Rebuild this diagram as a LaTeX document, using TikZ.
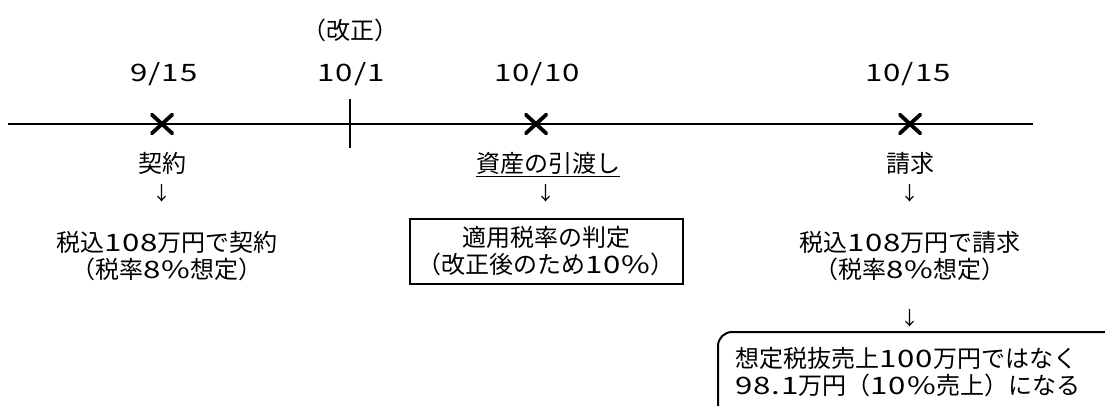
\documentclass[tikz,border=0pt]{standalone}
\usepackage{fontspec}
\setmainfont{Noto Sans CJK JP}
\newfontfamily\latn{Noto Sans CJK JP}[FakeStretch=1.3,LetterSpace=4]
\newcommand{\dg}[1]{{\latn #1}}
\begin{document}
\begin{tikzpicture}[x=1pt,y=-1pt,
  txt/.style={inner sep=0pt, font=\fontsize{24}{27.5}\selectfont, align=center},
  arr/.style={inner sep=0pt, font=\fontsize{19}{20}\selectfont},
  xmark/.style={minimum width=23pt, minimum height=21pt, inner sep=0pt,
    path picture={\draw[line width=3.8pt]
      (path picture bounding box.north west) -- (path picture bounding box.south east)
      (path picture bounding box.south west) -- (path picture bounding box.north east);}},
  frame/.style={draw, line width=2pt, inner sep=0pt},
  axis/.style={line width=2.2pt}
]
\clip (0,0) rectangle (1105,405);
\fill[white] (0,0) rectangle (1105,405);

% header labels
\node[txt] (kaisei) at (350,30) {（改正）};
\node[txt] (d1) at (164,74) {\dg{9/15}};
\node[txt] (d2) at (351,74) {\dg{10/1}};
\node[txt] (d3) at (537,74) {\dg{10/10}};
\node[txt] (d4) at (908,74) {\dg{10/15}};

% timeline
\coordinate (ts) at (8,124);
\coordinate (te) at (1033,124);
\draw[axis] (ts) -- (te);
\coordinate (tk1) at (350,99);
\coordinate (tk2) at (350,148);
\draw[axis] (tk1) -- (tk2);

\node[xmark] (x1) at (162,124) {};
\node[xmark] (x2) at (536,124) {};
\node[xmark] (x3) at (910,124) {};

% event labels
\node[txt] (l1) at (162,163) {契約};
\node[txt] (l2) at (548,163) {資産の引渡し};
\draw[line width=1.3pt] ([yshift=-2.5pt]l2.south west) -- ([yshift=-2.5pt]l2.south east);
\node[txt] (l3) at (910,163) {請求};

\node[arr] (a1) at (162,193) {↓};
\node[arr] (a2) at (546,193) {↓};
\node[arr] (a3) at (910,193) {↓};

\node[txt] (c1) at (167,256) {税込\dg{108}万円で契約\\（税率\dg{8\%}想定）};
\node[frame, minimum width=273pt, minimum height=65pt] (b2) at (546.5,251) {};
\node[txt] (c2) at (546,251) {適用税率の判定\\（改正後のため\dg{10\%}）};
\node[txt] (c3) at (910,256) {税込\dg{108}万円で請求\\（税率\dg{8\%}想定）};

\node[arr] (a4) at (910,318) {↓};

\draw[line width=2pt, rounded corners=14pt] (718,440) -- (718,332) -- (1130,332) -- (1130,440);
\node[txt, align=left, anchor=west] (c4) at (735,372) {想定税抜売上\dg{100}万円ではなく\\\dg{98.1}万円（\dg{10\%}売上）になる};
\end{tikzpicture}
\end{document}
